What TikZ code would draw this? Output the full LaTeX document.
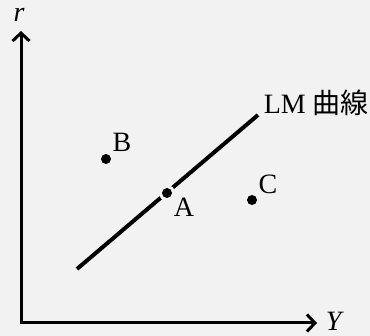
\documentclass[tikz,border=0pt]{standalone}
\usepackage{fontspec}
\setmainfont{Liberation Serif}
\newfontfamily\cjkfont{Noto Sans CJK JP}
\usetikzlibrary{arrows.meta}
\definecolor{lightbg}{RGB}{242, 242, 242}

\begin{document}
\begin{tikzpicture}[x=1pt, y=-1pt, font=\fontsize{28}{31}\selectfont,
    dot/.style={circle, fill=black, inner sep=0pt, minimum size=10pt},
    lbl/.style={inner sep=0pt}]
    \useasboundingbox (0,0) rectangle (370,336);
    \fill[lightbg] (0,0) rectangle (370,336);
    % axes
    \coordinate (O) at (21,323);
    \coordinate (rtop) at (21,31);
    \coordinate (Yend) at (317,323);
    \draw[line width=3pt, {Straight Barb[length=8pt,width=17pt]}-{Straight Barb[length=8pt,width=17pt]}] (rtop) -- (O) -- (Yend);
    \node[lbl] (rlabel) at (19,15) {\textit{r}};
    \node[lbl] (Ylabel) at (335,321) {\textit{Y}};
    % LM curve
    \coordinate (lmlow) at (77,269);
    \coordinate (lmhigh) at (258,115);
    \draw[line width=4pt] (lmlow) -- (lmhigh);
    \node[lbl, anchor=east] (lmlabel) at (369,103) {LM {\cjkfont 曲線}};
    % points
    \fill[lightbg] (167,193) circle (8pt);
    \node[dot] (ptA) at (167,193) {};
    \node[dot] (ptB) at (106,159) {};
    \node[dot] (ptC) at (252,200) {};
    \node[lbl] (labA) at (184,207) {A};
    \node[lbl] (labB) at (122,142) {B};
    \node[lbl] (labC) at (268,184) {C};
\end{tikzpicture}
\end{document}
